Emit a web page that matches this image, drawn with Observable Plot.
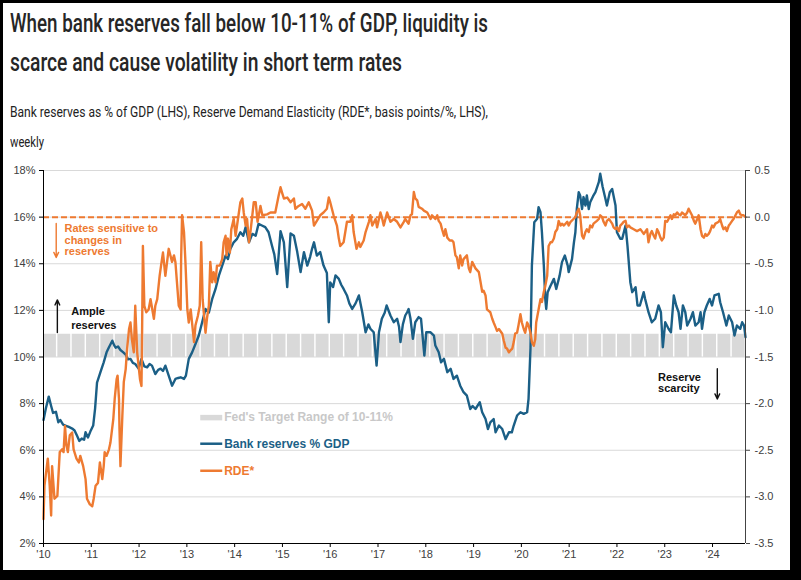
<!DOCTYPE html>
<html>
<head>
<meta charset="utf-8">
<script src="https://cdn.jsdelivr.net/npm/d3@7"></script>
<script src="https://cdn.jsdelivr.net/npm/@observablehq/plot@0.6"></script>
<style>
  html, body { margin: 0; padding: 0; background: #000; width: 801px; height: 580px; overflow: hidden; }
  #panel { position: absolute; left: 3px; top: 3px; width: 787px; height: 567px; background: #fff; }
  .t { position: absolute; left: 10px; white-space: nowrap; display: inline-block; transform-origin: 0 0; font-family: Roboto, "Liberation Sans", sans-serif; color: #262626; line-height: 1; }
  .title { font-size: 26px; font-weight: 500; }
  .sub { font-size: 15.5px; font-weight: 400; color: #222; }
  #chart { position: absolute; left: 0; top: 150px; }
</style>
</head>
<body>
<div id="panel"></div>
<span class="t title" id="t1" style="top:10px">When bank reserves fall below 10-11% of GDP, liquidity is</span>
<span class="t title" id="t2" style="top:49px">scarce and cause volatility in short term rates</span>
<span class="t sub" id="s1" style="top:105px">Bank reserves as % of GDP (LHS), Reserve Demand Elasticity (RDE*, basis points/%, LHS),</span>
<span class="t sub" id="s2" style="top:135px">weekly</span>
<div id="chart"></div>
<script>
// ---------- data ----------
const yearTicks = [2010, 2011, 2012, 2013, 2014, 2015, 2016, 2017, 2018, 2019, 2020, 2021, 2022, 2023, 2024];
const pctTicks = [2, 4, 6, 8, 10, 12, 14, 16, 18];
const rdeTicks = [0.5, 0.0, -0.5, -1.0, -1.5, -2.0, -2.5, -3.0, -3.5];
const targetRange = [10, 11];

// Bank reserves % GDP (year, %)
const reserves = [[2010.00,7.3],[2010.05,7.8],[2010.11,8.3],[2010.16,7.9],[2010.2,7.6],[2010.26,7.65],[2010.31,7.2],[2010.35,7.3],[2010.41,7.1],[2010.47,7.05],[2010.53,7.0],[2010.6,6.93],[2010.65,6.85],[2010.7,6.63],[2010.75,6.4],[2010.8,6.5],[2010.85,6.45],[2010.88,6.77],[2010.93,6.55],[2010.98,6.8],[2011.04,7.06],[2011.08,7.8],[2011.12,8.9],[2011.19,9.34],[2011.26,9.77],[2011.32,10.2],[2011.37,10.42],[2011.44,10.7],[2011.48,10.5],[2011.51,10.4],[2011.56,10.45],[2011.61,10.3],[2011.67,10.2],[2011.72,10.1],[2011.77,9.9],[2011.82,9.92],[2011.87,9.75],[2011.92,9.7],[2011.99,9.5],[2012.05,9.92],[2012.11,9.6],[2012.17,9.56],[2012.22,9.7],[2012.27,9.63],[2012.34,9.27],[2012.4,9.45],[2012.45,9.5],[2012.5,9.4],[2012.55,9.63],[2012.62,9.2],[2012.69,8.77],[2012.76,9.06],[2012.82,9.1],[2012.87,9.13],[2012.94,9.06],[2012.98,9.2],[2013.04,9.92],[2013.11,10.2],[2013.18,10.56],[2013.25,10.92],[2013.32,11.49],[2013.39,12.06],[2013.46,11.9],[2013.53,12.49],[2013.6,12.92],[2013.67,13.49],[2013.74,13.92],[2013.81,14.35],[2013.86,14.2],[2013.91,14.64],[2013.98,14.92],[2014.05,15.07],[2014.12,15.35],[2014.18,15.2],[2014.23,15.57],[2014.3,14.92],[2014.37,15.28],[2014.44,15.2],[2014.5,15.71],[2014.57,15.64],[2014.64,15.57],[2014.71,15.35],[2014.78,14.78],[2014.83,14.4],[2014.89,13.56],[2014.96,15.4],[2015.03,14.92],[2015.1,13.0],[2015.17,15.3],[2015.24,15.2],[2015.31,14.5],[2015.38,13.64],[2015.45,14.5],[2015.52,13.92],[2015.58,14.3],[2015.62,14.64],[2015.66,14.92],[2015.72,14.35],[2015.79,14.5],[2015.86,13.92],[2015.93,13.6],[2015.97,11.49],[2016.0,13.2],[2016.06,13.0],[2016.11,13.5],[2016.18,13.35],[2016.23,13.1],[2016.28,12.92],[2016.35,12.64],[2016.4,12.3],[2016.46,12.06],[2016.53,12.3],[2016.6,12.64],[2016.67,11.92],[2016.74,11.06],[2016.8,11.4],[2016.84,11.21],[2016.91,11.06],[2016.97,9.63],[2017.02,11.06],[2017.08,11.64],[2017.14,11.9],[2017.18,12.21],[2017.26,11.78],[2017.33,11.49],[2017.4,11.64],[2017.44,11.3],[2017.47,10.64],[2017.52,11.4],[2017.57,11.78],[2017.61,11.92],[2017.64,12.06],[2017.68,11.64],[2017.73,10.78],[2017.78,11.49],[2017.85,11.71],[2017.9,11.64],[2017.97,10.06],[2018.01,11.06],[2018.1,11.06],[2018.17,10.92],[2018.2,10.49],[2018.27,10.2],[2018.32,9.77],[2018.38,9.92],[2018.45,9.35],[2018.52,9.49],[2018.58,9.06],[2018.65,9.2],[2018.72,8.77],[2018.79,8.49],[2018.86,8.34],[2018.93,7.77],[2018.98,7.9],[2019.04,7.77],[2019.13,8.06],[2019.18,7.63],[2019.25,7.34],[2019.3,6.91],[2019.35,7.2],[2019.42,7.34],[2019.46,6.77],[2019.53,7.06],[2019.6,6.91],[2019.67,6.48],[2019.74,6.77],[2019.8,6.77],[2019.84,7.06],[2019.91,7.49],[2019.98,7.63],[2020.05,7.56],[2020.12,7.63],[2020.15,8.2],[2020.19,10.35],[2020.22,13.92],[2020.27,15.78],[2020.33,15.93],[2020.36,16.43],[2020.4,16.21],[2020.43,15.35],[2020.47,13.92],[2020.5,12.49],[2020.52,12.06],[2020.55,12.78],[2020.61,13.06],[2020.68,13.35],[2020.73,12.92],[2020.8,13.49],[2020.85,14.07],[2020.91,14.35],[2020.97,13.92],[2020.99,13.64],[2021.06,14.21],[2021.1,14.92],[2021.13,15.35],[2021.16,16.35],[2021.2,17.07],[2021.23,16.93],[2021.27,16.35],[2021.3,16.86],[2021.34,16.5],[2021.37,16.93],[2021.41,16.35],[2021.44,16.64],[2021.5,16.9],[2021.55,17.07],[2021.62,17.5],[2021.65,17.86],[2021.7,17.3],[2021.76,16.78],[2021.79,16.5],[2021.85,17.07],[2021.9,17.21],[2021.97,16.5],[2022.0,15.35],[2022.07,15.07],[2022.11,15.07],[2022.18,15.64],[2022.22,14.78],[2022.28,13.21],[2022.32,12.78],[2022.39,12.99],[2022.43,12.21],[2022.48,12.21],[2022.52,12.49],[2022.56,12.78],[2022.59,12.49],[2022.66,11.92],[2022.73,11.49],[2022.8,11.64],[2022.87,12.21],[2022.92,11.92],[2022.96,10.42],[2023.01,11.49],[2023.08,11.21],[2023.13,11.06],[2023.19,12.64],[2023.24,12.21],[2023.29,11.92],[2023.33,11.21],[2023.38,12.21],[2023.43,11.92],[2023.47,11.35],[2023.54,11.64],[2023.59,11.92],[2023.64,11.35],[2023.71,11.49],[2023.75,11.92],[2023.78,11.21],[2023.83,11.92],[2023.88,12.21],[2023.94,12.49],[2023.99,12.21],[2024.04,12.64],[2024.13,12.71],[2024.16,12.35],[2024.22,11.92],[2024.29,11.35],[2024.34,11.78],[2024.41,11.49],[2024.46,10.92],[2024.51,11.35],[2024.58,11.21],[2024.62,11.49],[2024.66,11.35],[2024.69,10.85]];

// Reserve Demand Elasticity (year, basis points/%)
const rde = [[2010.0,-3.24],[2010.02,-2.88],[2010.09,-2.59],[2010.13,-2.88],[2010.16,-3.2],[2010.18,-2.67],[2010.23,-3.02],[2010.29,-2.99],[2010.34,-2.52],[2010.39,-2.49],[2010.42,-2.52],[2010.45,-2.24],[2010.48,-2.45],[2010.51,-2.52],[2010.55,-2.34],[2010.6,-2.31],[2010.63,-2.49],[2010.69,-2.59],[2010.74,-2.63],[2010.77,-2.56],[2010.83,-2.67],[2010.88,-2.81],[2010.91,-3.02],[2010.97,-3.08],[2011.02,-3.1],[2011.05,-3.02],[2011.09,-2.88],[2011.14,-2.85],[2011.18,-2.63],[2011.23,-2.81],[2011.26,-2.67],[2011.28,-2.52],[2011.32,-2.56],[2011.37,-2.49],[2011.4,-2.42],[2011.46,-2.17],[2011.49,-1.95],[2011.53,-1.74],[2011.55,-1.7],[2011.58,-1.95],[2011.59,-2.27],[2011.61,-2.67],[2011.65,-2.13],[2011.68,-1.77],[2011.72,-1.63],[2011.75,-1.41],[2011.79,-1.2],[2011.82,-1.13],[2011.85,-1.31],[2011.89,-1.45],[2011.92,-0.95],[2011.96,-1.45],[2012.02,-1.74],[2012.05,-1.81],[2012.06,-1.41],[2012.08,-0.31],[2012.11,-0.95],[2012.15,-1.02],[2012.2,-0.99],[2012.24,-0.88],[2012.31,-1.09],[2012.34,-0.95],[2012.38,-0.88],[2012.43,-0.63],[2012.46,-0.52],[2012.5,-0.38],[2012.55,-0.63],[2012.62,-0.34],[2012.69,-0.48],[2012.73,-0.41],[2012.76,-0.48],[2012.83,-0.95],[2012.87,-0.99],[2012.88,-0.45],[2012.9,0.02],[2012.94,-0.16],[2012.97,-0.48],[2013.01,-0.99],[2013.04,-1.13],[2013.08,-0.99],[2013.15,-1.34],[2013.18,-1.16],[2013.23,-1.06],[2013.27,-0.95],[2013.3,-0.27],[2013.33,-0.88],[2013.39,-1.24],[2013.42,-1.09],[2013.46,-0.95],[2013.49,-0.48],[2013.53,-0.7],[2013.56,-0.59],[2013.6,-0.7],[2013.63,-0.52],[2013.69,-0.52],[2013.74,-0.45],[2013.77,-0.27],[2013.81,-0.2],[2013.83,-0.41],[2013.86,-0.23],[2013.9,-0.38],[2013.93,-0.13],[2013.98,-0.02],[2014.02,-0.2],[2014.05,-0.09],[2014.12,0.16],[2014.16,0.2],[2014.19,0.05],[2014.23,-0.09],[2014.26,-0.02],[2014.3,-0.27],[2014.33,-0.16],[2014.37,0.02],[2014.4,0.16],[2014.44,0.16],[2014.48,-0.05],[2014.54,0.12],[2014.58,0.02],[2014.68,0.03],[2014.75,0.05],[2014.85,0.05],[2014.92,0.23],[2014.96,0.32],[2015.0,0.25],[2015.03,0.2],[2015.1,0.21],[2015.17,0.16],[2015.24,0.2],[2015.27,0.09],[2015.34,0.12],[2015.41,0.14],[2015.48,0.09],[2015.55,0.16],[2015.62,0.07],[2015.66,-0.09],[2015.72,-0.04],[2015.79,0.02],[2015.86,0.05],[2015.93,0.09],[2015.97,0.21],[2016.0,0.16],[2016.07,0.02],[2016.14,-0.09],[2016.18,-0.23],[2016.21,-0.31],[2016.28,-0.27],[2016.35,-0.05],[2016.42,-0.05],[2016.46,0.02],[2016.49,-0.16],[2016.55,-0.34],[2016.6,-0.27],[2016.63,-0.32],[2016.7,-0.25],[2016.74,-0.16],[2016.81,-0.05],[2016.84,0.02],[2016.88,-0.09],[2016.95,-0.02],[2016.98,-0.11],[2017.05,0.05],[2017.08,0.0],[2017.12,-0.09],[2017.19,0.05],[2017.26,-0.05],[2017.33,-0.02],[2017.4,-0.05],[2017.47,-0.11],[2017.54,-0.05],[2017.57,-0.02],[2017.61,-0.05],[2017.64,-0.07],[2017.68,0.02],[2017.71,0.03],[2017.75,0.27],[2017.78,0.2],[2017.82,0.18],[2017.85,0.11],[2017.92,0.09],[2017.96,0.07],[2018.03,0.05],[2018.1,-0.02],[2018.13,0.02],[2018.2,-0.02],[2018.24,0.02],[2018.27,-0.04],[2018.31,-0.07],[2018.34,-0.13],[2018.38,-0.2],[2018.41,-0.13],[2018.45,-0.22],[2018.5,-0.25],[2018.55,-0.25],[2018.58,-0.27],[2018.62,-0.41],[2018.65,-0.43],[2018.69,-0.55],[2018.72,-0.41],[2018.76,-0.52],[2018.79,-0.45],[2018.86,-0.41],[2018.9,-0.55],[2018.93,-0.59],[2018.97,-0.48],[2019.04,-0.55],[2019.11,-0.59],[2019.14,-0.68],[2019.18,-0.8],[2019.21,-0.79],[2019.25,-0.84],[2019.28,-0.99],[2019.35,-1.02],[2019.39,-1.09],[2019.42,-1.13],[2019.46,-1.18],[2019.49,-1.22],[2019.53,-1.2],[2019.6,-1.25],[2019.63,-1.32],[2019.67,-1.4],[2019.7,-1.41],[2019.74,-1.45],[2019.77,-1.43],[2019.81,-1.41],[2019.84,-1.34],[2019.87,-1.25],[2019.91,-1.24],[2019.94,-1.16],[2019.98,-1.04],[2020.01,-1.13],[2020.05,-1.2],[2020.08,-1.24],[2020.12,-1.13],[2020.15,-1.16],[2020.19,-1.24],[2020.22,-1.34],[2020.26,-1.38],[2020.29,-1.31],[2020.31,-1.13],[2020.36,-0.99],[2020.4,-0.88],[2020.43,-0.91],[2020.47,-0.8],[2020.5,-0.74],[2020.54,-0.63],[2020.57,-0.31],[2020.61,-0.27],[2020.64,-0.27],[2020.68,-0.23],[2020.71,-0.16],[2020.75,-0.13],[2020.78,-0.04],[2020.82,-0.09],[2020.85,-0.07],[2020.89,-0.09],[2020.96,-0.05],[2020.99,-0.09],[2021.03,-0.05],[2021.09,-0.02],[2021.13,0.0],[2021.16,0.05],[2021.2,0.09],[2021.23,0.02],[2021.27,-0.2],[2021.3,-0.23],[2021.34,-0.16],[2021.37,-0.13],[2021.41,-0.16],[2021.44,-0.09],[2021.48,-0.11],[2021.51,-0.07],[2021.58,-0.04],[2021.62,-0.02],[2021.65,0.02],[2021.69,0.0],[2021.72,-0.05],[2021.76,-0.09],[2021.79,-0.04],[2021.83,-0.02],[2021.86,-0.04],[2021.9,-0.07],[2021.93,-0.11],[2021.97,-0.13],[2022.0,-0.11],[2022.04,-0.15],[2022.07,-0.09],[2022.11,-0.07],[2022.14,-0.05],[2022.18,-0.04],[2022.21,-0.11],[2022.25,-0.09],[2022.28,-0.11],[2022.35,-0.13],[2022.42,-0.15],[2022.49,-0.13],[2022.52,-0.15],[2022.56,-0.18],[2022.59,-0.16],[2022.63,-0.13],[2022.66,-0.27],[2022.7,-0.18],[2022.73,-0.15],[2022.77,-0.2],[2022.8,-0.23],[2022.84,-0.13],[2022.87,-0.16],[2022.91,-0.22],[2022.94,-0.25],[2022.98,-0.22],[2023.01,-0.04],[2023.05,-0.05],[2023.08,-0.02],[2023.12,0.02],[2023.15,-0.02],[2023.19,0.03],[2023.22,0.02],[2023.26,0.05],[2023.29,0.03],[2023.33,0.02],[2023.36,0.05],[2023.43,0.02],[2023.47,0.05],[2023.5,0.09],[2023.54,0.05],[2023.57,0.02],[2023.61,-0.04],[2023.64,-0.07],[2023.68,-0.02],[2023.71,0.02],[2023.75,-0.13],[2023.78,-0.2],[2023.82,-0.22],[2023.85,-0.18],[2023.88,-0.2],[2023.92,-0.18],[2023.95,-0.15],[2023.99,-0.09],[2024.02,-0.11],[2024.06,-0.07],[2024.13,-0.05],[2024.16,-0.02],[2024.2,-0.09],[2024.23,-0.13],[2024.27,-0.11],[2024.3,-0.15],[2024.34,-0.09],[2024.37,-0.07],[2024.41,-0.04],[2024.44,-0.02],[2024.48,0.02],[2024.51,0.05],[2024.55,0.07],[2024.58,0.03],[2024.62,0.02],[2024.65,0.02],[2024.69,0.0]];

// legend entries and annotations (year, % of GDP)
const legendItems = ["Fed's Target Range of 10-11%", "Bank reserves % GDP", "RDE*"];
const legendY = [7.4, 6.28, 5.12];
const notes = [
  {text: "Rates sensitive to\nchanges in\nreserves", x: 2010.44, y: 15.72, color: "#ee7a31", lh: 1.06},
  {text: "Ample\nreserves", x: 2010.58, y: 12.23, color: "#111", lh: 1.27},
  {text: "Reserve\nscarcity", x: 2022.86, y: 9.35, color: "#111", lh: 1.08}
];
const arrows = [
  {x: 2010.266, y1: 15.73, y2: 14.27, color: "#ee7a31"},
  {x: 2010.29, y1: 11.05, y2: 12.45, color: "#111"},
  {x: 2024.1, y1: 9.5, y2: 8.2, color: "#111"}
];

// ---------- chart ----------
const BLUE = "#1b5f86", ORANGE = "#ee7a31", BAND = "#d9d9d9";
const rdeToPct = r => 16 + 4 * r;
const fmtR = r => (r < 0 ? "-" : "") + Math.abs(r).toFixed(1);
const xEnd = 2024.69;

const chart = Plot.plot({
  width: 801,
  height: 420,
  marginLeft: 43,
  marginRight: 56,
  marginTop: 20,
  marginBottom: 27,
  style: {fontFamily: "'Liberation Sans', Arial, sans-serif", fontSize: "11px", background: "transparent", color: "#404040", overflow: "visible"},
  x: {domain: [2010, xEnd], label: null},
  y: {domain: [2, 18], label: null},
  marks: [
    Plot.gridY(pctTicks, {stroke: "#d9d9d9", strokeOpacity: 1, strokeWidth: 1}),
    Plot.ruleY([(targetRange[0] + targetRange[1]) / 2], {
      stroke: BAND, strokeWidth: 23.3, strokeDasharray: "12.9 1.45"
    }),
    Plot.ruleY([rdeToPct(0)], {stroke: ORANGE, strokeWidth: 2, strokeDasharray: "6 3"}),
    Plot.lineY(reserves, {x: d => d[0], y: d => d[1], stroke: BLUE, strokeWidth: 2.4, strokeLinejoin: "round"}),
    Plot.lineY(rde, {x: d => d[0], y: d => rdeToPct(d[1]), stroke: ORANGE, strokeWidth: 2.4, strokeLinejoin: "round"}),
    // axes
    Plot.ruleX([2010], {stroke: "#000", strokeWidth: 1}),
    Plot.ruleX([xEnd], {stroke: "#444", strokeWidth: 1}),
    Plot.ruleY([2], {stroke: "#000", strokeWidth: 1}),
    Plot.axisX({ticks: yearTicks, tickFormat: d => "'" + String(d).slice(2), tickSize: 4, tickPadding: 3, stroke: "#000", fill: "#404040", fontSize: 11}),
    Plot.axisY({anchor: "left", ticks: pctTicks, tickFormat: d => d + "%", tickSize: 4, tickPadding: 4, stroke: "#000", fill: "#404040", fontSize: 11}),
    Plot.axisY({anchor: "right", ticks: rdeTicks.map(rdeToPct), tickFormat: d => fmtR((d - 16) / 4), tickSize: 4, tickPadding: 5, stroke: "#444", fill: "#404040", fontSize: 11}),
    // legend
    Plot.link([0, 1, 2], {
      x1: 2013.28, x2: 2013.74, y1: i => legendY[i], y2: i => legendY[i],
      stroke: i => [BAND, BLUE, ORANGE][i], strokeWidth: i => [5.5, 2.5, 2.5][i]
    }),
    Plot.text([0, 1, 2], {
      x: 2013.78, y: i => legendY[i], text: i => legendItems[i],
      fill: i => ["#c8c8c8", BLUE, ORANGE][i], textAnchor: "start", fontWeight: "bold", fontSize: 12
    }),
    // annotations
    ...notes.map(n => Plot.text([n], {
      x: "x", y: "y", text: "text", fill: n.color, textAnchor: "start", lineAnchor: "top",
      fontWeight: "bold", fontSize: 11, lineHeight: n.lh
    })),
    Plot.arrow(arrows, {x: "x", y1: "y1", x2: "x", y2: "y2", stroke: d => d.color, strokeWidth: 1.4, headLength: 6, headAngle: 50})
  ]
});
document.getElementById("chart").appendChild(chart);

// fit title/subtitle lines to the reference widths (condensed lettering)
function fit(id, w) {
  const el = document.getElementById(id);
  const r = el.getBoundingClientRect().width;
  if (r > 0) el.style.transform = `scaleX(${w / r})`;
}
fit("t1", 478); fit("t2", 392); fit("s1", 478); fit("s2", 34);
</script>
</body>
</html>
